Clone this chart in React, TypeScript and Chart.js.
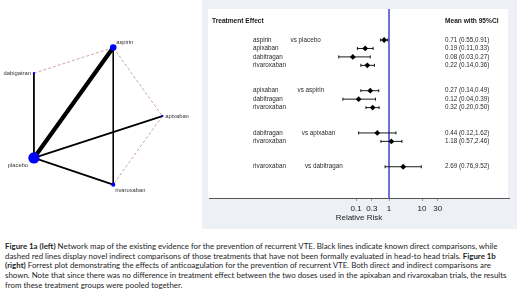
import React, { useEffect, useRef } from "react";
import { Chart, registerables } from "chart.js";
Chart.register(...registerables);

// ---------- Network map (Figure 1a) ----------
const nodeNames = ["aspirin", "dabigatran", "apixaban", "placebo", "rivaroxaban"];
const nodeX = [0.14, -0.7, 0.66, -0.7, 0.14];
const nodeY = [0.735, 0.465, 0.015, -0.425, -0.705];
const nodeSize = [3.3, 1.1, 1.1, 5.6, 2.1];
const directFrom = ["placebo", "placebo", "placebo", "placebo", "aspirin"];
const directTo = ["aspirin", "dabigatran", "apixaban", "rivaroxaban", "rivaroxaban"];
const directWeight = [4.2, 1.8, 1.8, 1.8, 1.6];
const indirectFrom = ["dabigatran", "aspirin", "apixaban"];
const indirectTo = ["aspirin", "apixaban", "rivaroxaban"];
// label placement per node: dx, dy (px), alignment
const labelDx = [3, -3, 3, -16, 2];
const labelDy = [-5, 0, 0, 7, 6];
const labelAlign = ["left", "right", "left", "center", "left"];

// ---------- Forest plot (Figure 1b) ----------
const groupComparators = ["placebo", "aspirin", "apixaban", "dabitragan"];
const groupTreatments = [
  ["aspirin", "apixaban", "dabitragan", "rivaroxaban"],
  ["apixaban", "dabitragan", "rivaroxaban"],
  ["dabitragan", "rivaroxaban"],
  ["rivaroxaban"],
];
const means = [0.71, 0.19, 0.08, 0.22, 0.27, 0.12, 0.32, 0.44, 1.18, 2.69];
const lower = [0.55, 0.11, 0.03, 0.14, 0.14, 0.04, 0.2, 0.12, 0.57, 0.76];
const upper = [0.91, 0.33, 0.27, 0.36, 0.49, 0.39, 0.5, 1.62, 2.46, 9.52];
const xTicks = [0.1, 0.3, 1, 10, 30];
const xMin = 3.5e-6;
const xMax = 4330;
const yMin = -3.67;
const yMax = 18.7;

const captionLines: [string, boolean][][] = [
  [["Figure 1a (left)", true], [" Network map of the existing evidence for the prevention of recurrent VTE. Black lines indicate known direct comparisons, while", false]],
  [["dashed red lines display novel indirect comparisons of those treatments that have not been formally evaluated in head-to head trials. ", false], ["Figure 1b", true]],
  [["(right)", true], [" Forrest plot demonstrating the effects of anticoagulation for the prevention of recurrent VTE. Both direct and indirect comparisons are", false]],
  [["shown. Note that since there was no difference in treatment effect between the two doses used in the apixaban and rivaroxaban trials, the results", false]],
  [["from these treatment groups were pooled together.", false]],
];

const SANS = "'Liberation Sans', Arial, sans-serif";

function NetworkMap() {
  const ref = useRef<HTMLCanvasElement>(null);
  useEffect(() => {
    const idx = (n: string) => nodeNames.indexOf(n);
    const pt = (n: string) => ({ x: nodeX[idx(n)], y: nodeY[idx(n)] });
    const datasets: any[] = [];
    datasets.push({
      type: "scatter",
      data: nodeNames.map((_, i) => ({ x: nodeX[i], y: nodeY[i] })),
      pointRadius: nodeSize,
      pointHoverRadius: nodeSize,
      pointBackgroundColor: "#0000ff",
      pointBorderWidth: 0,
    });
    directFrom.forEach((f, i) =>
      datasets.push({
        type: "line",
        data: [pt(f), pt(directTo[i])],
        borderColor: "#000000",
        borderWidth: directWeight[i],
        pointRadius: 0,
        borderCapStyle: "round",
      })
    );
    indirectFrom.forEach((f, i) =>
      datasets.push({
        type: "line",
        data: [pt(f), pt(indirectTo[i])],
        borderColor: "#c48e8e",
        borderWidth: 0.8,
        borderDash: [3, 2],
        pointRadius: 0,
      })
    );
    const labelPlugin = {
      id: "nodeLabels",
      afterDatasetsDraw(chart: any) {
        const ctx = chart.ctx;
        const xs = chart.scales.x;
        const ys = chart.scales.y;
        ctx.save();
        ctx.font = `5.8px ${SANS}`;
        ctx.fillStyle = "#333333";
        ctx.textBaseline = "middle";
        nodeNames.forEach((n, i) => {
          ctx.textAlign = labelAlign[i];
          ctx.fillText(n, xs.getPixelForValue(nodeX[i]) + labelDx[i], ys.getPixelForValue(nodeY[i]) + labelDy[i]);
        });
        ctx.restore();
      },
    };
    const chart = new Chart(ref.current!, {
      type: "scatter",
      data: { datasets },
      options: {
        animation: false,
        responsive: false,
        devicePixelRatio: 1,
        events: [],
        layout: { padding: 0 },
        plugins: { legend: { display: false }, tooltip: { enabled: false } },
        scales: {
          x: { type: "linear", min: -1, max: 1, display: false },
          y: { type: "linear", min: -1.175, max: 1.175, display: false },
        },
      } as any,
      plugins: [labelPlugin],
    });
    return () => chart.destroy();
  }, []);
  return (
    <canvas
      ref={ref}
      width={200}
      height={235}
      style={{ position: "absolute", left: 0, top: 0, width: 200, height: 235 }}
    />
  );
}

function ForestPlot() {
  const ref = useRef<HTMLCanvasElement>(null);
  useEffect(() => {
    const rows: { name: string; comp: string | null; row: number }[] = [];
    let r = 0;
    groupTreatments.forEach((g, gi) => {
      g.forEach((name, j) => {
        rows.push({ name, comp: j === 0 ? "vs " + groupComparators[gi] : null, row: r });
        r++;
      });
      r += 2;
    });
    const ciText = means.map((m, i) => `${m.toFixed(2)} (${lower[i].toFixed(2)},${upper[i].toFixed(2)})`);

    const datasets: any[] = [];
    datasets.push({
      type: "scatter",
      data: rows.map((rw, i) => ({ x: means[i], y: rw.row })),
      pointStyle: "rectRot",
      pointRadius: 2.9,
      pointHoverRadius: 2.9,
      pointBackgroundColor: "#000000",
      pointBorderWidth: 0,
    });
    rows.forEach((rw, i) =>
      datasets.push({
        type: "line",
        data: [
          { x: lower[i], y: rw.row },
          { x: upper[i], y: rw.row },
        ],
        borderColor: "#000000",
        borderWidth: 0.9,
        pointStyle: "line",
        rotation: 90,
        pointRadius: 1.5,
        pointBorderColor: "#000000",
        pointBorderWidth: 0.9,
      })
    );
    datasets.push({
      type: "line",
      data: [
        { x: 1, y: yMin },
        { x: 1, y: yMax },
      ],
      borderColor: "#5e5ed2",
      borderWidth: 1,
      pointRadius: 0,
    });

    const bgPlugin = {
      id: "panelBg",
      beforeDraw(chart: any) {
        const { ctx, chartArea, width, height } = chart;
        ctx.save();
        ctx.fillStyle = "#edf1f5";
        ctx.fillRect(0, 0, width, height);
        ctx.fillStyle = "#ffffff";
        ctx.fillRect(chartArea.left - 1, chartArea.top, chartArea.right - chartArea.left, chartArea.bottom - chartArea.top);
        ctx.restore();
      },
    };
    const textPlugin = {
      id: "forestText",
      afterDatasetsDraw(chart: any) {
        const { ctx, chartArea } = chart;
        const ys = chart.scales.y;
        const L = chartArea.left;
        ctx.save();
        ctx.textBaseline = "middle";
        ctx.textAlign = "left";
        ctx.fillStyle = "#1a1a1a";
        ctx.font = `bold 6.6px ${SANS}`;
        const hy = ys.getPixelForValue(-2.25);
        ctx.fillText("Treatment Effect", L + 3, hy);
        ctx.fillText("Mean with 95%CI", L + 236, hy);
        ctx.font = `6.3px ${SANS}`;
        ctx.fillStyle = "#2a2a2a";
        rows.forEach((rw, i) => {
          const y = ys.getPixelForValue(rw.row);
          ctx.fillText(rw.name, L + 44, y);
          if (rw.comp) {
            const w = ctx.measureText(rw.name).width;
            ctx.fillText(rw.comp, L + 44 + w + 19, y);
          }
          ctx.fillText(ciText[i], L + 236, y);
        });
        ctx.restore();
      },
    };

    const chart = new Chart(ref.current!, {
      type: "scatter",
      data: { datasets },
      options: {
        animation: false,
        responsive: false,
        devicePixelRatio: 1,
        events: [],
        layout: { padding: { left: 7, right: 8, top: 9, bottom: 6 } },
        plugins: { legend: { display: false }, tooltip: { enabled: false } },
        scales: {
          x: {
            type: "logarithmic",
            min: xMin,
            max: xMax,
            afterBuildTicks: (axis: any) => {
              axis.ticks = xTicks.map((v) => ({ value: v }));
            },
            afterFit: (axis: any) => {
              axis.height = 25;
            },
            ticks: {
              autoSkip: false,
              maxRotation: 0,
              padding: 3,
              color: "#1a1a1a",
              font: { size: 8, family: SANS },
              callback: (v: any) => String(v),
            },
            grid: { display: true, drawOnChartArea: false, drawTicks: true, tickLength: 3, color: "#999999" },
            border: { display: true, color: "#555555", width: 1 },
            title: {
              display: true,
              text: "Relative Risk",
              color: "#1a1a1a",
              font: { size: 8, family: SANS },
              padding: { top: 0, bottom: 0 },
            },
          },
          y: { type: "linear", min: yMin, max: yMax, reverse: true, display: false },
        },
      } as any,
      plugins: [bgPlugin, textPlugin],
    });
    return () => chart.destroy();
  }, []);
  return (
    <canvas
      ref={ref}
      width={315}
      height={229}
      style={{ position: "absolute", left: 202, top: 0, width: 315, height: 229 }}
    />
  );
}

function Caption() {
  return (
    <div
      style={{
        position: "absolute",
        left: 5,
        top: 242,
        fontFamily: "Lato, 'Open Sans', sans-serif",
        fontSize: 7.9,
        lineHeight: "9.7px",
        color: "#1e1e1e",
      }}
    >
      {captionLines.map((line, i) => (
        <div key={i} style={{ whiteSpace: "nowrap" }}>
          {line.map(([t, b], j) => (
            <span key={j} style={{ fontWeight: b ? 700 : 400 }}>
              {t}
            </span>
          ))}
        </div>
      ))}
    </div>
  );
}

export default function App() {
  return (
    <div
      style={{
        position: "fixed",
        left: 0,
        top: 0,
        width: 520,
        height: 292,
        background: "#ffffff",
        overflow: "hidden",
      }}
    >
      <NetworkMap />
      <ForestPlot />
      <Caption />
    </div>
  );
}
